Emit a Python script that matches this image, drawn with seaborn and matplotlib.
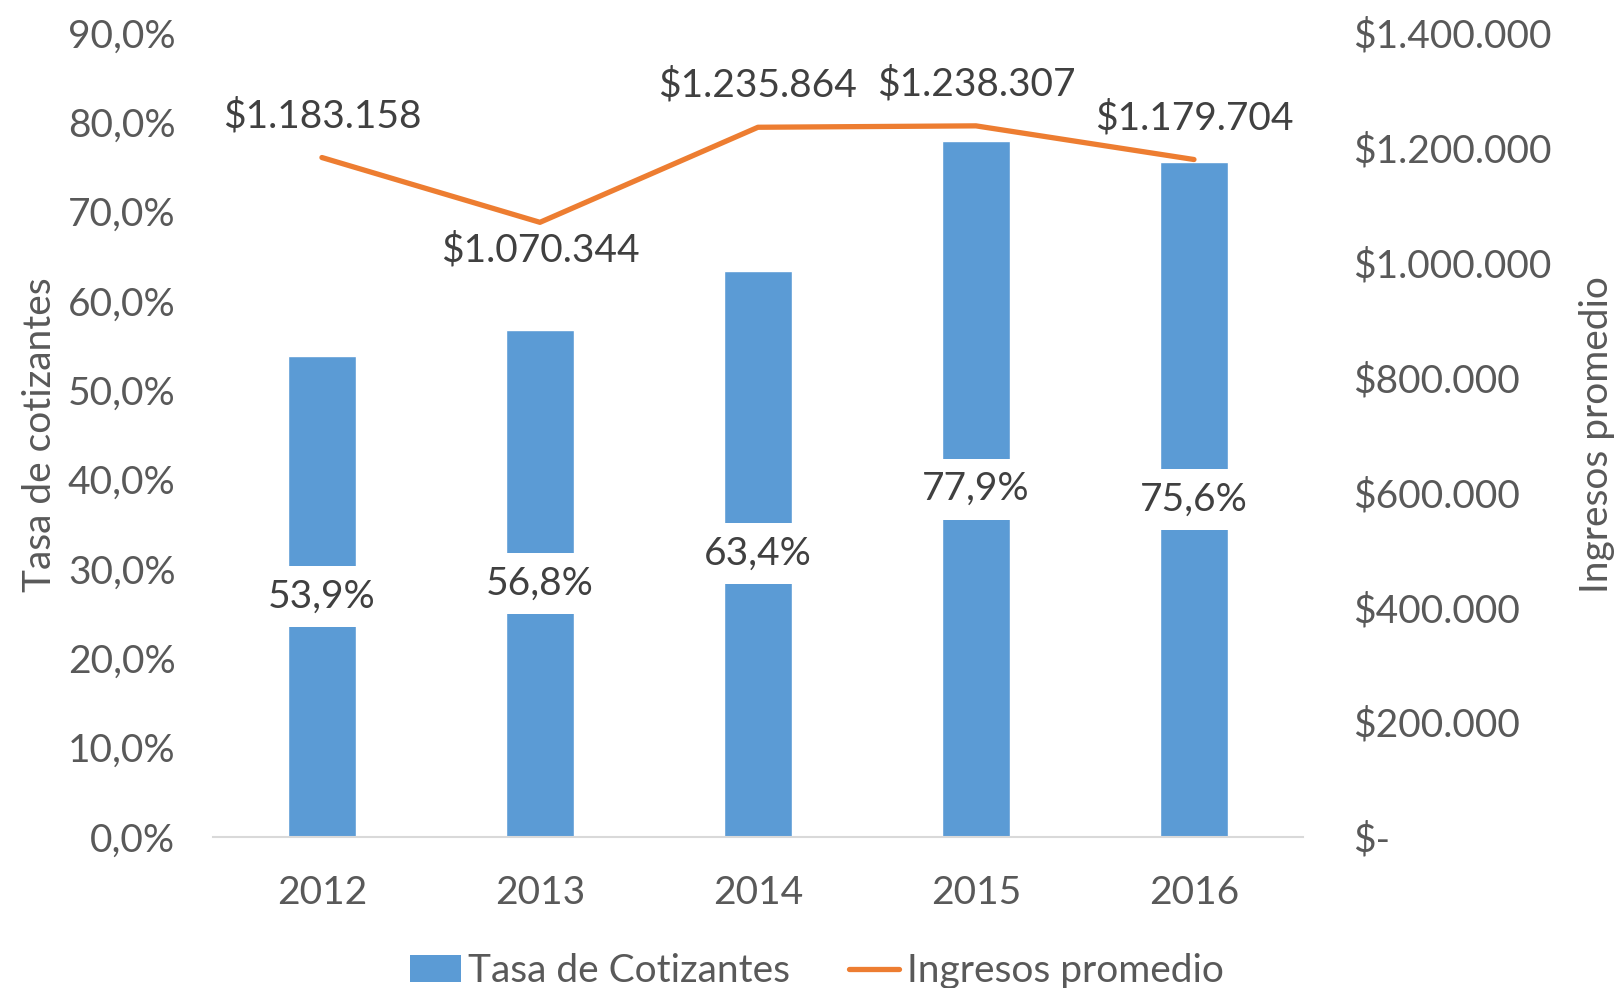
import matplotlib
matplotlib.use("Agg")
import matplotlib.pyplot as plt
import seaborn as sns
import pandas as pd
from matplotlib.patches import Patch
from matplotlib.lines import Line2D
from matplotlib.ticker import FuncFormatter

years = ["2012", "2013", "2014", "2015", "2016"]
tasa_cotizantes = [53.9, 56.8, 63.4, 77.9, 75.6]
ingresos_promedio = [1183158, 1070344, 1235864, 1238307, 1179704]
label_above = [True, False, True, True, True]

BLUE = "#5B9BD5"
ORANGE = "#ED7D31"
TICK_GRAY = "#595959"
LABEL_DARK = "#404040"
AXIS_GRAY = "#D9D9D9"
FS = 28

sns.set_theme(style="white")
plt.rcParams["font.family"] = ["Lato", "DejaVu Sans"]

df = pd.DataFrame({"year": years, "tasa": tasa_cotizantes, "ingreso": ingresos_promedio})

fig = plt.figure(figsize=(16.18, 9.88), dpi=100)
ax = fig.add_axes([0.1316, 0.1528, 0.6737, 0.8138])

sns.barplot(data=df, x="year", y="tasa", color=BLUE, width=0.315,
            saturation=1, ax=ax, zorder=2)
ax.set_ylim(0, 90)
ax.set_xlim(-0.5, len(years) - 0.5)

def pct_fmt(v, _):
    return f"{v:.1f}".replace(".", ",") + "%"

ax.yaxis.set_major_formatter(FuncFormatter(pct_fmt))
ax.set_yticks(range(0, 91, 10))
ax.tick_params(axis="y", length=0, labelsize=FS, labelcolor=TICK_GRAY, pad=27)
ax.tick_params(axis="x", which="major", length=0, labelsize=FS,
               labelcolor=TICK_GRAY, pad=27)
ax.set_xticks([i - 0.5 for i in range(len(years) + 1)], minor=True)
ax.tick_params(axis="x", which="minor", length=10, width=1.3, color=AXIS_GRAY)
for s in ["top", "left", "right"]:
    ax.spines[s].set_visible(False)
ax.spines["bottom"].set_color(AXIS_GRAY)
ax.spines["bottom"].set_linewidth(1.5)
ax.set_xlabel("")
ax.set_ylabel("Tasa de cotizantes", fontsize=FS, color=TICK_GRAY, labelpad=7)

for i, v in enumerate(tasa_cotizantes):
    ax.text(i, v / 2, pct_fmt(v, None), ha="center", va="center",
            fontsize=FS, color=LABEL_DARK, zorder=3,
            bbox=dict(facecolor="white", edgecolor="none", pad=9))

ax2 = ax.twinx()
sns.lineplot(data=df, x="year", y="ingreso", color=ORANGE, linewidth=3.8,
             ax=ax2, solid_capstyle="round")
ax2.set_ylim(0, 1400000)
ax2.set_xlim(-0.5, len(years) - 0.5)

def money_fmt(v, _):
    if v == 0:
        return "$-"
    return "$" + f"{int(round(v)):,}".replace(",", ".")

ax2.yaxis.set_major_formatter(FuncFormatter(money_fmt))
ax2.set_yticks(range(0, 1400001, 200000))
ax2.tick_params(axis="y", length=0, labelsize=FS, labelcolor=TICK_GRAY, pad=36)
for s in ["top", "left", "right", "bottom"]:
    ax2.spines[s].set_visible(False)
ax2.set_ylabel("Ingresos promedio", fontsize=FS, color=TICK_GRAY,
               rotation=90, labelpad=20)
ax2.set_xlabel("")

for i, (v, up) in enumerate(zip(ingresos_promedio, label_above)):
    ax2.annotate(money_fmt(v, None), (i, v),
                 xytext=(0, 30 if up else -20), textcoords="offset points",
                 ha="center", va="center", fontsize=FS, color=LABEL_DARK)

handles = [Patch(facecolor=BLUE, edgecolor="none"),
           Line2D([0], [0], color=ORANGE, linewidth=3.8)]
fig.legend(handles, ["Tasa de Cotizantes", "Ingresos promedio"],
           loc="center", bbox_to_anchor=(0.505, 0.017), ncol=2, frameon=False,
           fontsize=FS, labelcolor=TICK_GRAY, handlelength=1.3,
           handletextpad=0.2, columnspacing=1.5)

fig.savefig("out.png", dpi=100)
